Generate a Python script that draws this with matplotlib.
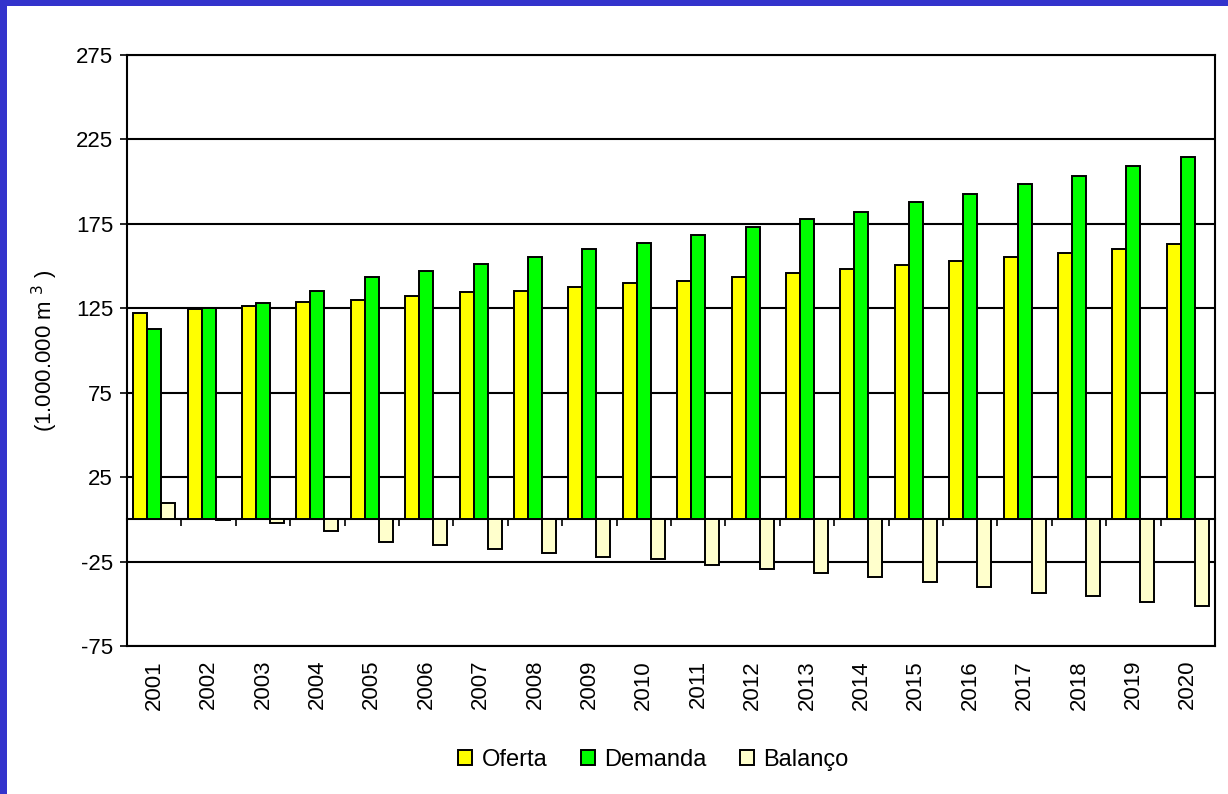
import matplotlib
matplotlib.use('Agg')
import matplotlib.pyplot as plt
import numpy as np
from matplotlib.patches import Rectangle

plt.rcParams['font.family'] = ['Liberation Sans', 'DejaVu Sans']
plt.rcParams['axes.unicode_minus'] = False

anos = [str(a) for a in range(2001, 2021)]
oferta = [122.5, 124.7, 126.2, 128.5, 129.7, 132.2, 134.5, 135.4, 137.9, 140.0,
          141.4, 143.6, 146.1, 148.3, 150.7, 152.8, 155.2, 157.6, 160.2, 163.3]
demanda = [113.0, 125.0, 128.4, 135.3, 143.3, 147.3, 151.5, 155.5, 160.0, 163.5,
           168.2, 173.0, 177.6, 182.3, 188.0, 192.9, 198.6, 203.2, 209.3, 214.7]
balanco = [9.5, -0.3, -2.2, -6.8, -13.4, -15.1, -17.3, -20.1, -22.1, -23.5,
           -26.8, -29.4, -31.5, -34.0, -37.3, -40.1, -43.4, -45.6, -49.1, -51.4]
yticks = [-75, -25, 25, 75, 125, 175, 225, 275]

fig = plt.figure(figsize=(12.28, 7.94), dpi=100, facecolor='white')
# blue frame strips (top and left)
fig.patches.append(Rectangle((0, 1 - 6 / 794), 1, 6 / 794, transform=fig.transFigure,
                             facecolor='#3333CC', edgecolor='none'))
fig.patches.append(Rectangle((0, 0), 7 / 1228, 1, transform=fig.transFigure,
                             facecolor='#3333CC', edgecolor='none'))

ax = fig.add_axes([127 / 1228, 1 - 646 / 794, (1215 - 127) / 1228, (646 - 55) / 794])

x = np.arange(len(anos))
w = 0.257
ax.bar(x - w, oferta, w, color='#FFFF00', edgecolor='black', linewidth=1.4, label='Oferta', zorder=3)
ax.bar(x, demanda, w, color='#00FF00', edgecolor='black', linewidth=1.4, label='Demanda', zorder=3)
ax.bar(x + w, balanco, w, color='#FFFFCC', edgecolor='black', linewidth=1.4, label='Balanço', zorder=3)

ax.set_ylim(-75, 275)
ax.set_xlim(-0.5, len(anos) - 0.5)
ax.set_yticks(yticks)
ax.yaxis.grid(True, color='black', linewidth=1.5)
ax.set_axisbelow(True)
ax.tick_params(axis='y', direction='out', length=5, width=1.2, labelsize=16, pad=5)

ax.set_xticks(x)
ax.set_xticklabels(anos, rotation=90, fontsize=16)
ax.tick_params(axis='x', length=0, pad=10)

for s in ax.spines.values():
    s.set_linewidth(1.5)
    s.set_color('black')

# zero line with category boundary ticks
sec = ax.secondary_xaxis(75 / 350)
sec.set_xticks(np.arange(0.5, len(anos) - 1, 1))
sec.set_xticklabels([])
sec.tick_params(direction='out', length=5, width=1.2)
sec.spines['bottom'].set_linewidth(1.5)

ax.set_ylabel('(1.000.000 m $^{3}$ )', fontsize=16)
ax.yaxis.set_label_coords(-0.062, 0.5)

fig.legend(loc='center', bbox_to_anchor=(0.532, 0.043), ncol=3, frameon=False,
           fontsize=17, handlelength=0.6, handleheight=0.6, handletextpad=0.4,
           columnspacing=1.4)

fig.savefig('out.png', dpi=100, facecolor='white')
